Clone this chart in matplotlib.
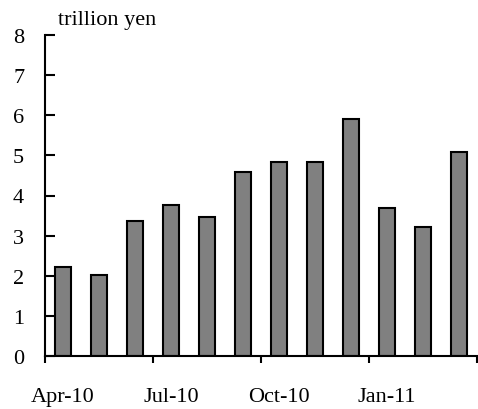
import matplotlib
matplotlib.use("Agg")
import matplotlib.pyplot as plt
import numpy as np

months = ["Apr-10", "May-10", "Jun-10", "Jul-10", "Aug-10", "Sep-10",
          "Oct-10", "Nov-10", "Dec-10", "Jan-11", "Feb-11", "Mar-11"]
values = [2.23, 2.03, 3.37, 3.77, 3.47, 4.58, 4.83, 4.83, 5.91, 3.68, 3.22, 5.08]
shown_labels = ["Apr-10", "Jul-10", "Oct-10", "Jan-11"]
unit = "trillion yen"

plt.rcParams["font.family"] = ["Liberation Serif", "DejaVu Serif"]

fig = plt.figure(figsize=(4.78, 4.10), dpi=100)
ax = fig.add_axes([45 / 478, 53 / 410, 432 / 478, 321 / 410])

x = np.arange(len(values))
ax.bar(x, values, 0.47, color="#808080", edgecolor="black", linewidth=1.5)

ax.set_xlim(-0.5, len(values) - 0.5)
ax.set_ylim(0, 8)

for s in ["top", "right"]:
    ax.spines[s].set_visible(False)
ax.spines["left"].set_linewidth(1.5)
ax.spines["bottom"].set_linewidth(1.5)

ax.set_yticks(range(0, 9))
ax.tick_params(axis="y", direction="in", length=7, width=1.5, pad=15, labelsize=16)

# ticks at quarter boundaries, labels at first month of each quarter
ax.set_xticks(np.arange(-0.5, len(values), 3))
ax.set_xticklabels([])
ax.tick_params(axis="x", which="major", direction="out", length=5, width=1.5)
idx = [months.index(m) for m in shown_labels]
ax.set_xticks(idx, minor=True)
ax.set_xticklabels(shown_labels, minor=True)
ax.tick_params(axis="x", which="minor", length=0, pad=22, labelsize=16)

fig.text(58 / 478, 1 - 20 / 410, unit, fontsize=16, va="center", ha="left")

fig.savefig("out.png", dpi=100)
